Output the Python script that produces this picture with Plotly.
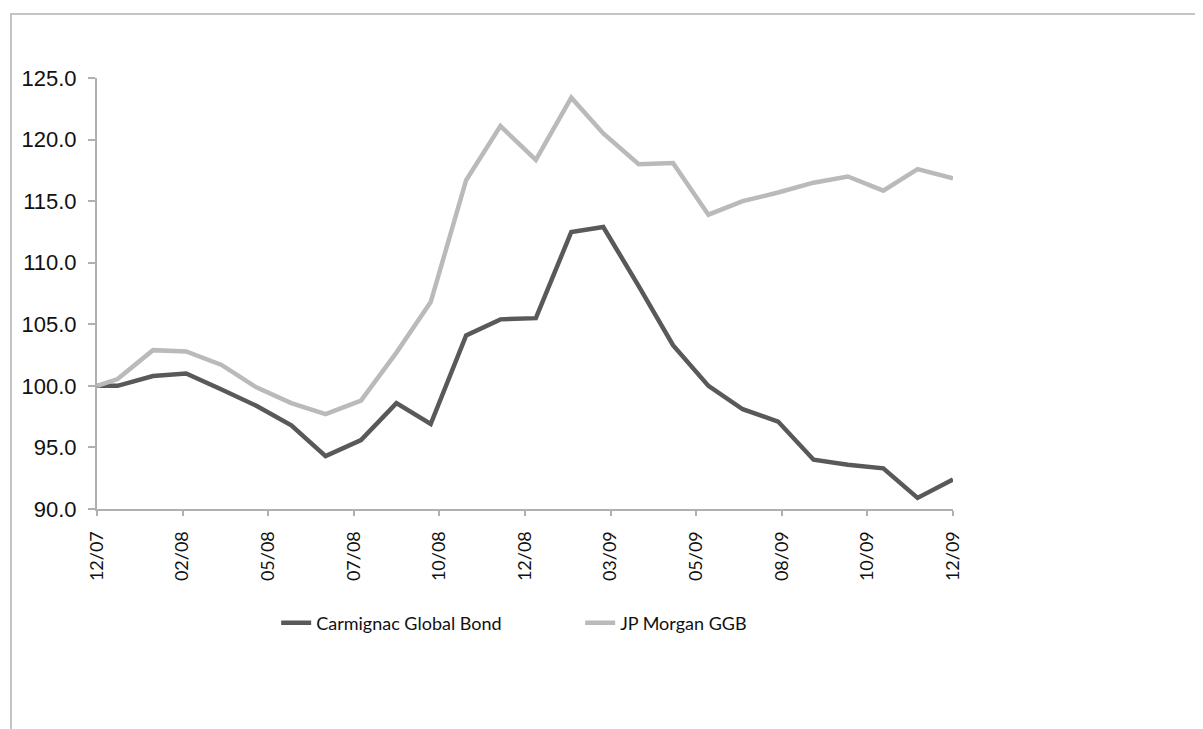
import plotly.graph_objects as go
import pandas as pd

dates = ["2007-12-13", "2007-12-31", "2008-01-31", "2008-02-29", "2008-03-31", "2008-04-30",
         "2008-05-31", "2008-06-30", "2008-07-31", "2008-08-31", "2008-09-30", "2008-10-31",
         "2008-11-30", "2008-12-31", "2009-01-31", "2009-02-28", "2009-03-31", "2009-04-30",
         "2009-05-31", "2009-06-30", "2009-07-31", "2009-08-31", "2009-09-30", "2009-10-31",
         "2009-11-30", "2009-12-31"]

carmignac = [100.0, 100.0, 100.8, 101.0, 99.7, 98.4, 96.8, 94.3, 95.6, 98.6, 96.9, 104.1,
             105.4, 105.5, 112.5, 112.9, 108.1, 103.3, 100.0, 98.1, 97.1, 94.0, 93.6, 93.3,
             90.9, 92.4]

jpmorgan = [100.0, 100.55, 102.9, 102.8, 101.7, 99.9, 98.6, 97.7, 98.8, 102.7, 106.8, 116.7,
            121.1, 118.35, 123.4, 120.5, 118.0, 118.1, 113.9, 115.0, 115.7, 116.5, 117.0, 115.85,
            117.6, 116.85]

series_names = ["Carmignac Global Bond", "JP Morgan GGB"]
series_colors = ["#595959", "#bababa"]

y_min, y_max, y_step = 90, 125, 5

tickvals_x = pd.date_range(dates[0], dates[-1], periods=11)

fig = go.Figure()
for name, vals, col in zip(series_names, [carmignac, jpmorgan], series_colors):
    fig.add_trace(go.Scatter(x=dates, y=vals, mode="lines", name=name,
                             line=dict(color=col, width=4.5)))

fig.update_layout(
    width=1195, height=721,
    margin=dict(l=89, r=250, t=70, b=220),
    paper_bgcolor="white", plot_bgcolor="white",
    showlegend=True,
    legend=dict(orientation="h", x=0.2093, xanchor="left", y=-0.2645, yanchor="middle",
                font=dict(family="Lato, sans-serif", size=18, color="#111111"),
                entrywidth=259, entrywidthmode="pixels", itemwidth=30,
                bgcolor="rgba(0,0,0,0)"),
    shapes=[dict(type="rect", xref="paper", yref="paper",
                 x0=(3 - 89) / 856, x1=2.0, y0=-2.0, y1=(501 - 6) / 431,
                 line=dict(color="#c4c4c4", width=2), fillcolor="rgba(0,0,0,0)",
                 layer="below")],
)

fig.update_xaxes(
    type="date", range=[dates[0], dates[-1]],
    tickvals=tickvals_x, tickformat="%m/%y", tickangle=-90,
    tickfont=dict(family="Lato, sans-serif", size=18, color="#111111"),
    showgrid=False, zeroline=False,
    showline=True, linecolor="#b0b0b0", linewidth=2,
    ticks="outside", ticklen=5, tickcolor="#b0b0b0", tickwidth=1.5,
    ticklabelstandoff=8,
)
fig.update_yaxes(
    range=[y_min, y_max], dtick=y_step, tick0=y_min, tickformat=".1f",
    tickfont=dict(family="Liberation Sans, Arial, sans-serif", size=22, color="#111111"),
    showgrid=False, zeroline=False,
    showline=True, linecolor="#b0b0b0", linewidth=2,
    ticks="outside", ticklen=7, tickcolor="#b0b0b0", tickwidth=1.5,
    ticklabelstandoff=7,
)

fig.write_html("out.html")
